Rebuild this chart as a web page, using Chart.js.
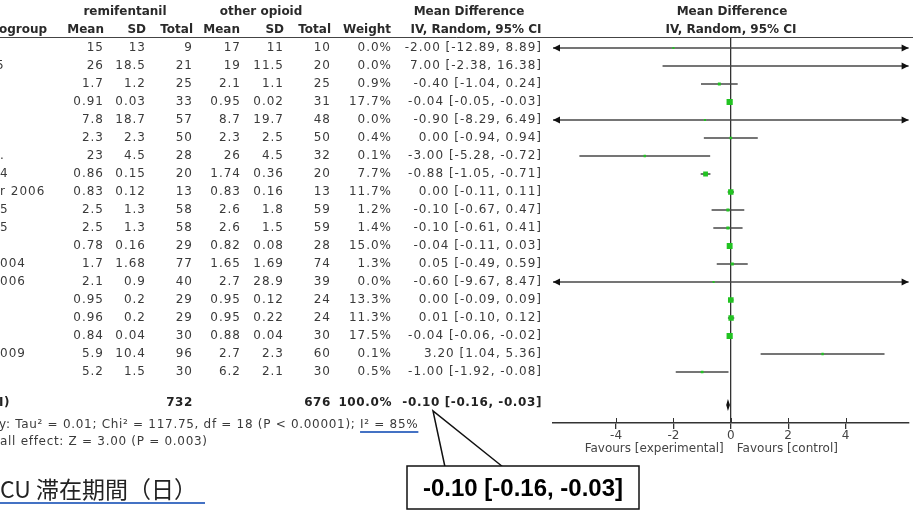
<!DOCTYPE html>
<html>
<head>
<meta charset="utf-8">
<script src="https://cdn.jsdelivr.net/npm/chart.js@4/dist/chart.umd.min.js"></script>
<style>
  body { margin: 0; background: #fff; }
  canvas { display: block; }
</style>
</head>
<body>
<canvas id="forest" width="913" height="522" style="width:913px;height:522px"></canvas>
<script>
// study rows (names are cut off at the left edge in the source)
const studyTail = ["", "5", "", "", "", "", ".", "4", "r 2006", "5", "5", "", "004", "006", "", "", "", "009", ""];
const remiMean = [15, 26, 1.7, 0.91, 7.8, 2.3, 23, 0.86, 0.83, 2.5, 2.5, 0.78, 1.7, 2.1, 0.95, 0.96, 0.84, 5.9, 5.2];
const remiSD = [13, 18.5, 1.2, 0.03, 18.7, 2.3, 4.5, 0.15, 0.12, 1.3, 1.3, 0.16, 1.68, 0.9, 0.2, 0.2, 0.04, 10.4, 1.5];
const remiN = [9, 21, 25, 33, 57, 50, 28, 20, 13, 58, 58, 29, 77, 40, 29, 29, 30, 96, 30];
const otherMean = [17, 19, 2.1, 0.95, 8.7, 2.3, 26, 1.74, 0.83, 2.6, 2.6, 0.82, 1.65, 2.7, 0.95, 0.95, 0.88, 2.7, 6.2];
const otherSD = [11, 11.5, 1.1, 0.02, 19.7, 2.5, 4.5, 0.36, 0.16, 1.8, 1.5, 0.08, 1.69, 28.9, 0.12, 0.22, 0.04, 2.3, 2.1];
const otherN = [10, 20, 25, 31, 48, 50, 32, 20, 13, 59, 59, 28, 74, 39, 24, 24, 30, 60, 30];
const weight = [0.0, 0.0, 0.9, 17.7, 0.0, 0.4, 0.1, 7.7, 11.7, 1.2, 1.4, 15.0, 1.3, 0.0, 13.3, 11.3, 17.5, 0.1, 0.5];
const meanDiff = [-2.00, 7.00, -0.40, -0.04, -0.90, 0.00, -3.00, -0.88, 0.00, -0.10, -0.10, -0.04, 0.05, -0.60, 0.00, 0.01, -0.04, 3.20, -1.00];
const ciLow = [-12.89, -2.38, -1.04, -0.05, -8.29, -0.94, -5.28, -1.05, -0.11, -0.67, -0.61, -0.11, -0.49, -9.67, -0.09, -0.10, -0.06, 1.04, -1.92];
const ciHigh = [8.89, 16.38, 0.24, -0.03, 6.49, 0.94, -0.72, -0.71, 0.11, 0.47, 0.41, 0.03, 0.59, 8.47, 0.09, 0.12, -0.02, 5.36, -0.08];
const pooled = [-0.10, -0.16, -0.03]; // estimate, low, high
const totalN = [732, 676];
const axisTicks = [-4, -2, 0, 2, 4];

const rows = meanDiff.map((v, i) => i + 1);
const pooledRow = 20.83;

const fmtCI = (m, lo, hi) => m.toFixed(2) + " [" + lo.toFixed(2) + ", " + hi.toFixed(2) + "]";

const lineColor = "#474747";
const green = "#22c322";

const ciSets = rows.map((r, i) => ({
  data: [{ x: ciLow[i], y: r }, { x: ciHigh[i], y: r }],
  showLine: true,
  borderColor: lineColor,
  borderWidth: 1.5,
  pointRadius: 0
}));

const squares = {
  data: rows.map((r, i) => ({ x: meanDiff[i], y: r })),
  pointStyle: "rect",
  pointRadius: weight.map(w => (2 + Math.sqrt(w)) / 1.414),
  backgroundColor: green,
  borderWidth: 0
};

const forestText = {
  id: "forestText",
  afterDatasetsDraw(chart) {
    const c = chart.ctx;
    const xs = chart.scales.x, ys = chart.scales.y;
    const area = chart.chartArea;
    c.save();
    // arrowheads where the interval runs off the scale
    c.fillStyle = "#111";
    rows.forEach((r, i) => {
      const y = ys.getPixelForValue(r);
      if (ciLow[i] < xs.min) {
        c.beginPath();
        c.moveTo(area.left, y); c.lineTo(area.left + 7, y - 3.5); c.lineTo(area.left + 7, y + 3.5);
        c.fill();
      }
      if (ciHigh[i] > xs.max) {
        c.beginPath();
        c.moveTo(area.right, y); c.lineTo(area.right - 7, y - 3.5); c.lineTo(area.right - 7, y + 3.5);
        c.fill();
      }
    });
    // pooled diamond
    const py = ys.getPixelForValue(pooledRow);
    c.beginPath();
    c.moveTo(xs.getPixelForValue(pooled[1]), py);
    c.lineTo(xs.getPixelForValue(pooled[0]), py - 6);
    c.lineTo(xs.getPixelForValue(pooled[2]), py);
    c.lineTo(xs.getPixelForValue(pooled[0]), py + 6);
    c.closePath();
    c.fill();
    // upper half of the tick marks
    c.strokeStyle = "#333";
    c.lineWidth = 1;
    axisTicks.forEach(t => {
      const x = Math.round(xs.getPixelForValue(t)) + 0.5;
      c.beginPath(); c.moveTo(x, area.bottom - 5); c.lineTo(x, area.bottom); c.stroke();
    });
    c.restore();
  },
  afterDraw(chart) {
    const c = chart.ctx;
    const xs = chart.scales.x, ys = chart.scales.y;
    c.save();
    c.textBaseline = "middle";

    // header
    c.fillStyle = "#2a2a2a";
    c.font = "bold 12px 'DejaVu Sans'";
    c.textAlign = "center";
    c.fillText("remifentanil", 125, 12);
    c.fillText("other opioid", 261, 12);
    c.fillText("Mean Difference", 469, 12);
    c.fillText("IV, Random, 95% CI", 476, 30);
    c.fillText("Mean Difference", 732, 12);
    c.fillText("IV, Random, 95% CI", 731, 30);
    c.textAlign = "left";
    c.fillText("ogroup", -1, 30);
    c.textAlign = "right";
    [["Mean", 104], ["SD", 146], ["Total", 193], ["Mean", 240], ["SD", 284], ["Total", 331], ["Weight", 391]]
      .forEach(([t, x]) => c.fillText(t, x, 30));

    c.strokeStyle = "#444";
    c.lineWidth = 1;
    c.beginPath(); c.moveTo(0, 37.5); c.lineTo(913, 37.5); c.stroke();

    // study rows
    c.fillStyle = "#3a3a3a";
    c.font = "12px 'DejaVu Sans'";
    c.letterSpacing = "1px";
    rows.forEach((r, i) => {
      const y = ys.getPixelForValue(r);
      c.textAlign = "left";
      c.fillText(studyTail[i], studyTail[i] === "5" && i === 1 ? -4 : 0, y);
      c.textAlign = "right";
      c.fillText(String(remiMean[i]), 104, y);
      c.fillText(String(remiSD[i]), 146, y);
      c.fillText(String(remiN[i]), 193, y);
      c.fillText(String(otherMean[i]), 241, y);
      c.fillText(String(otherSD[i]), 284, y);
      c.fillText(String(otherN[i]), 331, y);
      c.fillText(weight[i].toFixed(1) + "%", 392, y);
      c.fillText(fmtCI(meanDiff[i], ciLow[i], ciHigh[i]), 542, y);
    });

    // total row
    const ty = ys.getPixelForValue(pooledRow) - 2;
    c.fillStyle = "#222";
    c.font = "bold 12px 'DejaVu Sans'";
    c.letterSpacing = "0.6px";
    c.textAlign = "left";
    c.fillText("I)", -1, ty);
    c.textAlign = "right";
    c.fillText(String(totalN[0]), 193, ty);
    c.fillText(String(totalN[1]), 331, ty);
    c.fillText("100.0%", 392, ty);
    c.fillText(fmtCI(pooled[0], pooled[1], pooled[2]), 542, ty);

    // heterogeneity / overall effect
    c.letterSpacing = "0.7px";
    c.fillStyle = "#3a3a3a";
    c.font = "12px 'DejaVu Sans'";
    c.textAlign = "left";
    const het = "y: Tau\u00b2 = 0.01; Chi\u00b2 = 117.75, df = 18 (P < 0.00001); ";
    const i2 = "I\u00b2 = 85%";
    c.fillText(het + i2, -1, 425);
    const ux = -1 + c.measureText(het).width;
    const uw = c.measureText(i2).width;
    c.fillText("all effect: Z = 3.00 (P = 0.003)", 0, 442);
    c.strokeStyle = "#4472c4";
    c.lineWidth = 2;
    c.beginPath(); c.moveTo(ux, 432); c.lineTo(ux + uw, 432); c.stroke();
    c.letterSpacing = "0px";

    // favours labels
    const x0 = xs.getPixelForValue(0);
    c.fillStyle = "#444";
    c.font = "12px 'DejaVu Sans'";
    c.textAlign = "right";
    c.fillText("Favours [experimental]", x0 - 7, 449);
    c.textAlign = "left";
    c.fillText("Favours [control]", x0 + 6, 449);

    // slide title
    c.fillStyle = "#222";
    c.font = "23px 'Noto Sans CJK JP'";
    c.fillText("CU 滞在期間（日）", 0, 489);
    c.strokeStyle = "#4472c4";
    c.lineWidth = 2;
    c.beginPath(); c.moveTo(0, 503); c.lineTo(205, 503); c.stroke();

    // callout
    c.strokeStyle = "#111";
    c.lineWidth = 1.5;
    c.beginPath(); c.moveTo(445, 467); c.lineTo(433, 411); c.lineTo(503, 467); c.stroke();
    c.fillStyle = "#fff";
    c.fillRect(407, 466, 232, 43);
    c.strokeRect(407, 466, 232, 43);
    c.fillStyle = "#000";
    c.font = "bold 24px 'Liberation Sans'";
    c.textAlign = "center";
    c.fillText(fmtCI(pooled[0], pooled[1], pooled[2]), 523, 489);
    c.restore();
  }
};

new Chart(document.getElementById("forest"), {
  type: "scatter",
  data: { datasets: [squares, ...ciSets] },
  options: {
    responsive: false,
    animation: false,
    layout: { padding: { left: 553, right: 4, top: 38, bottom: 0 } },
    plugins: { legend: { display: false }, tooltip: { enabled: false } },
    scales: {
      x: {
        type: "linear",
        min: -6.2,
        max: 6.2,
        afterBuildTicks: s => { s.ticks = axisTicks.map(v => ({ value: v })); },
        afterFit: s => { s.height = 99; },
        grid: {
          drawOnChartArea: true,
          color: ctx => (ctx.tick && ctx.tick.value === 0 ? "#333" : "rgba(0,0,0,0)"),
          tickColor: "#333",
          tickLength: 6,
          lineWidth: 1.3
        },
        border: { display: true, color: "#333", width: 1.5 },
        ticks: { color: "#444", font: { family: "DejaVu Sans", size: 12 }, padding: 0 }
      },
      y: { type: "linear", display: false, reverse: true, min: 0.444, max: 21.833 }
    }
  },
  plugins: [forestText]
});
</script>
</body>
</html>
